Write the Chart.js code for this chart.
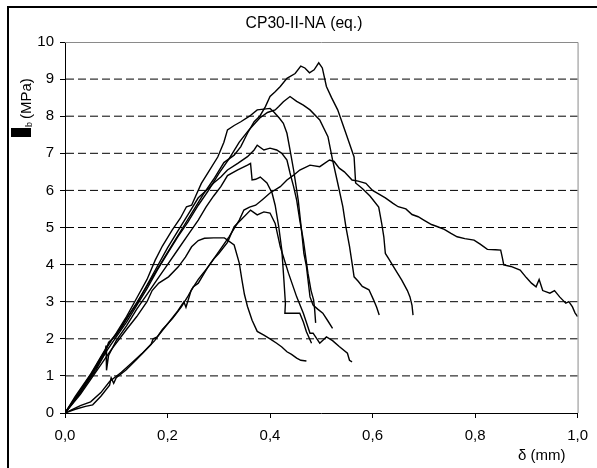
<!DOCTYPE html>
<html>
<head>
<meta charset="utf-8">
<script src="https://cdn.jsdelivr.net/npm/chart.js@4/dist/chart.umd.min.js"></script>
<style>
html,body{margin:0;padding:0;background:#fff;}
canvas{display:block;}
</style>
</head>
<body>
<canvas id="c" width="597" height="468"></canvas>
<script>
// ---- data (δ in mm, τb in MPa) ----
const chartTitle = 'CP30-II-NA (eq.)';
const xTickValues = [0, 0.2, 0.4, 0.6, 0.8, 1.0];
const xTickLabels = ['0,0', '0,2', '0,4', '0,6', '0,8', '1,0'];
const yTickValues = [0, 1, 2, 3, 4, 5, 6, 7, 8, 9, 10];

// peak ~9.4
const curveA = [[0,0],[0.02,0.4],[0.05,1.0],[0.07,1.5],[0.09,1.95],[0.11,2.3],[0.13,2.75],[0.15,3.2],[0.17,3.65],[0.19,4.1],[0.21,4.55],[0.23,5.0],[0.25,5.45],[0.27,5.9],[0.29,6.3],[0.31,6.75],[0.33,6.95],[0.343,7.18],[0.356,7.54],[0.369,7.85],[0.38,8.0],[0.391,8.26],[0.4,8.53],[0.41,8.66],[0.42,8.8],[0.433,9.02],[0.449,9.15],[0.46,9.35],[0.468,9.3],[0.477,9.17],[0.486,9.25],[0.495,9.44],[0.502,9.3],[0.51,8.8],[0.52,8.5],[0.532,8.17],[0.548,7.54],[0.564,6.9],[0.567,6.2],[0.58,6.05],[0.595,5.85],[0.612,5.55],[0.618,5.1],[0.622,4.75],[0.625,4.3],[0.632,4.15],[0.645,3.85],[0.657,3.58],[0.668,3.3],[0.673,3.13],[0.677,2.9],[0.679,2.64]];
// peak ~8.5
const curveB = [[0,0],[0.03,0.55],[0.06,1.2],[0.08,1.65],[0.1,2.05],[0.12,2.45],[0.14,2.9],[0.16,3.35],[0.18,3.85],[0.2,4.3],[0.22,4.75],[0.24,5.15],[0.26,5.6],[0.28,6.0],[0.3,6.45],[0.32,6.85],[0.34,7.3],[0.36,7.65],[0.38,7.95],[0.395,8.1],[0.41,8.17],[0.417,8.26],[0.426,8.39],[0.439,8.53],[0.452,8.4],[0.465,8.3],[0.478,8.17],[0.497,7.9],[0.513,7.45],[0.522,6.82],[0.532,6.2],[0.542,5.56],[0.548,5.02],[0.555,4.5],[0.561,3.95],[0.564,3.67],[0.572,3.55],[0.58,3.41],[0.593,3.32],[0.602,3.05],[0.608,2.85],[0.613,2.64]];
// peak ~8.2
const curveC = [[0,0],[0.02,0.45],[0.05,1.05],[0.08,1.75],[0.1,2.15],[0.12,2.6],[0.14,3.1],[0.16,3.6],[0.176,4.12],[0.19,4.5],[0.209,4.93],[0.225,5.25],[0.237,5.56],[0.247,5.6],[0.255,5.85],[0.266,6.19],[0.28,6.5],[0.298,6.9],[0.31,7.3],[0.317,7.63],[0.33,7.75],[0.343,7.85],[0.36,8.0],[0.375,8.17],[0.388,8.19],[0.4,8.21],[0.407,8.12],[0.418,7.95],[0.426,7.81],[0.433,7.54],[0.439,7.09],[0.446,6.55],[0.455,5.74],[0.462,4.85],[0.466,4.3],[0.471,3.95],[0.478,3.13],[0.484,2.91],[0.493,2.8],[0.503,2.69],[0.512,2.5],[0.522,2.28]];
// peak ~7.2
const curveD = [[0,0],[0.03,0.6],[0.06,1.25],[0.08,1.7],[0.085,1.9],[0.1,2.1],[0.12,2.55],[0.14,2.95],[0.17,3.7],[0.2,4.45],[0.22,4.9],[0.24,5.35],[0.26,5.8],[0.28,6.05],[0.29,6.2],[0.304,6.36],[0.317,6.55],[0.337,6.73],[0.356,6.91],[0.369,7.09],[0.375,7.22],[0.388,7.09],[0.4,7.14],[0.413,7.09],[0.423,7.0],[0.433,6.82],[0.439,6.47],[0.446,6.1],[0.452,5.74],[0.458,5.2],[0.465,4.66],[0.474,3.77],[0.48,3.3],[0.485,3.05],[0.487,2.8],[0.489,2.43]];
// peak ~6.7
const curveF = [[0,0],[0.03,0.55],[0.06,1.15],[0.078,1.6],[0.08,1.82],[0.081,1.15],[0.085,1.55],[0.1,1.95],[0.12,2.35],[0.14,2.8],[0.16,3.2],[0.18,3.6],[0.2,4.0],[0.22,4.4],[0.24,4.8],[0.26,5.2],[0.275,5.55],[0.29,5.85],[0.304,6.1],[0.317,6.4],[0.337,6.55],[0.356,6.68],[0.362,6.73],[0.365,6.28],[0.372,6.3],[0.381,6.36],[0.394,6.2],[0.404,5.93],[0.41,5.6],[0.417,5.02],[0.423,4.39],[0.427,3.6],[0.43,2.96],[0.429,2.69],[0.44,2.69],[0.458,2.69],[0.465,2.45],[0.471,2.19],[0.481,1.88]];
// plateau ~4.7
const curveE = [[0,0],[0.03,0.5],[0.06,1.1],[0.09,1.7],[0.12,2.25],[0.14,2.6],[0.16,3.0],[0.17,3.3],[0.183,3.5],[0.202,3.67],[0.221,3.94],[0.235,4.2],[0.247,4.48],[0.26,4.65],[0.272,4.71],[0.29,4.72],[0.311,4.72],[0.33,4.53],[0.34,4.04],[0.345,3.6],[0.35,3.2],[0.356,2.87],[0.365,2.5],[0.375,2.2],[0.388,2.1],[0.4,2.0],[0.413,1.88],[0.423,1.78],[0.433,1.65],[0.442,1.58],[0.452,1.48],[0.46,1.42],[0.471,1.4]];
// peak ~5.5
const curveG = [[0,0],[0.02,0.1],[0.04,0.18],[0.054,0.22],[0.07,0.45],[0.087,0.75],[0.09,0.95],[0.095,0.8],[0.1,0.95],[0.119,1.16],[0.14,1.45],[0.163,1.78],[0.175,1.95],[0.19,2.25],[0.21,2.55],[0.227,2.86],[0.24,3.15],[0.25,3.4],[0.26,3.5],[0.279,3.94],[0.29,4.15],[0.3,4.3],[0.317,4.6],[0.33,5.02],[0.343,5.2],[0.362,5.47],[0.375,5.34],[0.388,5.42],[0.4,5.39],[0.41,5.11],[0.42,4.48],[0.436,3.77],[0.452,3.13],[0.465,2.69],[0.478,2.15],[0.484,2.15],[0.497,1.88],[0.51,2.05],[0.522,1.95],[0.535,1.79],[0.551,1.61],[0.555,1.42],[0.56,1.38]];
// peak ~6.8, long tail to 1.0
const curveH = [[0,0],[0.03,0.2],[0.05,0.3],[0.07,0.55],[0.087,0.85],[0.11,1.1],[0.13,1.35],[0.15,1.6],[0.168,1.85],[0.172,2.0],[0.18,2.05],[0.2,2.4],[0.22,2.75],[0.232,3.0],[0.236,2.85],[0.246,3.3],[0.26,3.6],[0.28,3.95],[0.3,4.35],[0.32,4.75],[0.34,5.2],[0.349,5.47],[0.36,5.55],[0.372,5.6],[0.385,5.75],[0.4,5.93],[0.42,6.1],[0.433,6.28],[0.446,6.41],[0.458,6.55],[0.478,6.68],[0.497,6.64],[0.516,6.82],[0.525,6.78],[0.535,6.6],[0.545,6.5],[0.56,6.28],[0.572,6.25],[0.587,6.19],[0.6,6.0],[0.61,5.92],[0.625,5.8],[0.64,5.65],[0.65,5.56],[0.665,5.5],[0.677,5.35],[0.689,5.29],[0.7,5.2],[0.715,5.08],[0.727,5.02],[0.74,4.95],[0.753,4.84],[0.765,4.75],[0.78,4.7],[0.798,4.66],[0.81,4.55],[0.824,4.41],[0.84,4.4],[0.85,4.39],[0.853,4.2],[0.856,3.99],[0.87,3.95],[0.888,3.85],[0.9,3.65],[0.91,3.5],[0.919,3.4],[0.925,3.6],[0.932,3.3],[0.946,3.23],[0.955,3.3],[0.965,3.13],[0.977,2.96],[0.983,3.0],[0.99,2.86],[0.995,2.7],[1.0,2.6]];

const allCurves = [curveA, curveB, curveC, curveD, curveF, curveE, curveG, curveH];

const FONT = "'Liberation Sans', Arial, sans-serif";

const decor = {
  id: 'decor',
  beforeDatasetsDraw(chart) {
    const {ctx, chartArea: a, scales: {x, y}} = chart;
    ctx.save();
    // dashed horizontal grid lines
    ctx.strokeStyle = '#000';
    ctx.lineWidth = 1;
    ctx.setLineDash([8, 4]);
    for (const v of yTickValues) {
      if (v === 0 || v === 10) continue;
      const py = y.getPixelForValue(v);
      ctx.beginPath();
      ctx.moveTo(a.left + 1, py);
      ctx.lineTo(a.right, py);
      ctx.stroke();
    }
    ctx.setLineDash([]);
    // top and right plot-area border (gray)
    ctx.strokeStyle = '#8a8a8a';
    ctx.beginPath();
    ctx.moveTo(a.left, y.getPixelForValue(10) + 0.5);
    ctx.lineTo(x.getPixelForValue(1) + 0.5, y.getPixelForValue(10) + 0.5);
    ctx.lineTo(x.getPixelForValue(1) + 0.5, a.bottom);
    ctx.stroke();
    ctx.restore();
  },
  afterDraw(chart) {
    const {ctx} = chart;
    ctx.save();
    // outer frame (left and top edges visible)
    ctx.strokeStyle = '#000';
    ctx.lineWidth = 2;
    ctx.beginPath();
    ctx.moveTo(8, 470);
    ctx.lineTo(8, 7);
    ctx.lineTo(600, 7);
    ctx.stroke();
    ctx.fillStyle = '#000';
    // title
    ctx.font = '15.7px ' + FONT;
    ctx.textAlign = 'center';
    ctx.textBaseline = 'alphabetic';
    ctx.fillText(chartTitle, 304, 28);
    // x axis title
    ctx.font = '15px ' + FONT;
    ctx.textAlign = 'left';
    ctx.fillText('δ (mm)', 518, 460);
    // y axis title (rotated): symbol box, subscript b, (MPa)
    ctx.translate(31, 137);
    ctx.rotate(-Math.PI / 2);
    ctx.fillRect(0, -20, 9, 20);
    ctx.font = '9px ' + FONT;
    ctx.fillText('b', 10, 1);
    ctx.font = '15px ' + FONT;
    ctx.fillText('(MPa)', 18, 0);
    ctx.restore();
  }
};

new Chart(document.getElementById('c'), {
  type: 'scatter',
  data: {
    datasets: allCurves.map((c, i) => ({
      label: 'curve' + (i + 1),
      data: c.map(p => ({x: p[0], y: p[1]})),
      showLine: true,
      borderColor: '#000',
      borderWidth: 1.4,
      pointRadius: 0,
      pointHoverRadius: 0,
      tension: 0,
      fill: false
    }))
  },
  options: {
    responsive: false,
    animation: false,
    devicePixelRatio: 1,
    layout: {padding: {left: 0, right: 12, top: 42, bottom: 0}},
    plugins: {legend: {display: false}, tooltip: {enabled: false}, title: {display: false}},
    scales: {
      x: {
        type: 'linear', min: 0, max: 1,
        afterFit(s) { s.height = 55; },
        afterBuildTicks(s) { s.ticks = xTickValues.map(v => ({value: v})); },
        ticks: {
          color: '#000', font: {family: FONT, size: 15}, padding: 9, maxRotation: 0, autoSkip: false,
          callback: (v, i) => xTickLabels[i]
        },
        grid: {drawOnChartArea: false, drawTicks: true, tickLength: 5, color: '#000', tickColor: '#000'},
        border: {display: true, color: '#000', width: 1}
      },
      y: {
        type: 'linear', min: 0, max: 10,
        afterFit(s) { s.width = 65; },
        afterBuildTicks(s) { s.ticks = yTickValues.map(v => ({value: v})); },
        ticks: {
          color: '#000', font: {family: FONT, size: 15}, padding: 6, autoSkip: false,
          callback: v => String(v)
        },
        grid: {drawOnChartArea: false, drawTicks: true, tickLength: 5, color: '#000', tickColor: '#000'},
        border: {display: true, color: '#000', width: 1}
      }
    }
  },
  plugins: [decor]
});
</script>
</body>
</html>
